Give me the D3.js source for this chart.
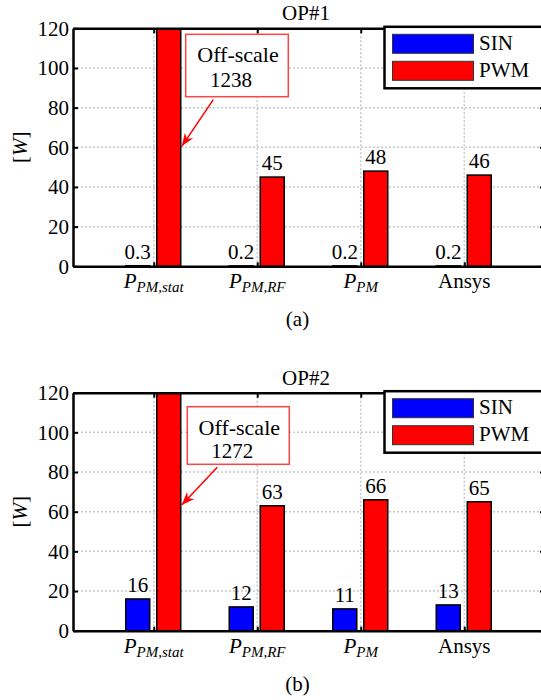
<!DOCTYPE html>
<html>
<head>
<meta charset="utf-8">
<script src="https://cdn.jsdelivr.net/npm/d3@7"></script>
</head>
<body style="margin:0">
<svg id="chart" width="541" height="700"></svg>
<script>
// categories on the x axis: main symbol + subscript (empty = plain text)
const catMain = ["P", "P", "P", "Ansys"];
const catSub = ["PM,stat", "PM,RF", "PM", ""];

// operating point #1
const sinOP1 = [0.3, 0.2, 0.2, 0.2];
const pwmOP1 = [1238, 45, 48, 46];
const sinLabelsOP1 = ["0.3", "0.2", "0.2", "0.2"];

// operating point #2
const sinOP2 = [16, 12, 11, 13];
const pwmOP2 = [1272, 63, 66, 65];
const sinLabelsOP2 = ["16", "12", "11", "13"];

const yTicks = [0, 20, 40, 60, 80, 100, 120];
const yMax = 120;
const seriesNames = ["SIN", "PWM"];
const seriesColors = ["#0000ff", "#ff0000"];

const svg = d3.select("#chart");
const FONT = '"Liberation Serif"';
const FS = 21;

// helper: text with the serif font
function txt(sel, size) {
    return sel.append("text")
        .style("font-family", FONT)
        .style("font-size", (size || FS) + "px")
        .attr("fill", "#000");
}

/**
 * draws one panel (bar chart) of the figure
 */
function drawPanel(cfg) {
    let left = 73, right = 545, top = cfg.top, bottom = cfg.top + 238;

    let x = d3.scaleLinear().domain([0.22, 4.78]).range([left, right]);
    let y = d3.scaleLinear().domain([0, yMax]).range([bottom, top]);
    let idx = [1, 2, 3, 4];

    let g = svg.append("g");

    let clipId = "clip-" + cfg.name;
    svg.append("clipPath").attr("id", clipId)
        .append("rect").attr("x", left).attr("y", top)
        .attr("width", right - left).attr("height", bottom - top);

    // grid (dotted)
    let grid = g.append("g")
        .attr("stroke", "#c8c8c8").attr("stroke-width", 1.5).attr("stroke-dasharray", "2,2");
    grid.selectAll(".h").data(yTicks.slice(1, -1)).join("line")
        .attr("x1", left).attr("x2", right)
        .attr("y1", d => y(d)).attr("y2", d => y(d));
    grid.selectAll(".v").data(idx).join("line")
        .attr("x1", d => x(d)).attr("x2", d => x(d))
        .attr("y1", top).attr("y2", bottom);

    // bars
    let bars = g.append("g").attr("clip-path", "url(#" + clipId + ")");
    let bw = 24;
    bars.selectAll(".sin").data(cfg.sin).join("rect")
        .attr("x", (d, i) => x(idx[i]) - 28)
        .attr("y", d => y(d))
        .attr("width", bw)
        .attr("height", d => y(0) - y(d))
        .attr("fill", seriesColors[0])
        .attr("stroke", "#000").attr("stroke-width", 1.5);
    bars.selectAll(".pwm").data(cfg.pwm).join("rect")
        .attr("x", (d, i) => x(idx[i]) + 3)
        .attr("y", d => y(Math.min(d, yMax + 5)))
        .attr("width", bw)
        .attr("height", d => y(0) - y(Math.min(d, yMax + 5)))
        .attr("fill", seriesColors[1])
        .attr("stroke", "#000").attr("stroke-width", 1.5);

    // value labels
    cfg.sin.forEach((d, i) => {
        txt(g).attr("x", x(idx[i]) - 16).attr("y", y(d) - 7)
            .attr("text-anchor", "middle").text(cfg.sinLabels[i]);
    });
    cfg.pwm.forEach((d, i) => {
        if (d > yMax) return;
        txt(g).attr("x", x(idx[i]) + 15).attr("y", y(d) - 7)
            .attr("text-anchor", "middle").text(d);
    });

    // axes (ticks point inwards)
    g.append("g").attr("transform", `translate(${left},0)`)
        .call(d3.axisLeft(y).tickValues(yTicks).tickSize(-5).tickSizeOuter(0).tickPadding(4));
    g.append("g").attr("transform", `translate(${right},0)`)
        .call(d3.axisRight(y).tickValues(yTicks).tickSize(-5).tickSizeOuter(0).tickFormat(""));
    g.append("g").attr("transform", `translate(0,${bottom})`)
        .call(d3.axisBottom(x).tickValues(idx).tickSize(-4).tickSizeOuter(0).tickFormat(""));
    g.append("g").attr("transform", `translate(0,${top})`)
        .call(d3.axisTop(x).tickValues(idx).tickSize(-5).tickSizeOuter(0).tickFormat(""));

    g.selectAll(".domain").attr("stroke", "#000").attr("stroke-width", 2.5);
    g.selectAll(".tick line").attr("stroke", "#000").attr("stroke-width", 2);
    g.selectAll(".tick text")
        .style("font-family", FONT)
        .style("font-size", FS + "px").attr("fill", "#000");

    // category labels
    idx.forEach((v, i) => {
        let t = txt(g).attr("x", x(v)).attr("y", bottom + 22)
            .attr("text-anchor", "middle");
        if (catSub[i] == "") {
            t.text(catMain[i]);
        } else {
            t.append("tspan").style("font-style", "italic").text(catMain[i]);
            t.append("tspan").style("font-style", "italic")
                .style("font-size", "15px").attr("dy", 4).text(catSub[i]);
        }
    });

    // y label
    let yl = txt(g)
        .attr("transform", `translate(27,${(top + bottom) / 2}) rotate(-90)`)
        .attr("text-anchor", "middle");
    yl.append("tspan").text("[");
    yl.append("tspan").style("font-style", "italic").text("W");
    yl.append("tspan").text("]");

    // title
    txt(g).attr("x", (left + 539) / 2).attr("y", top - 8)
        .attr("text-anchor", "middle").text(cfg.title);

    // legend
    let lg = g.append("g");
    lg.append("rect")
        .attr("x", 384.5).attr("y", top - 1.5)
        .attr("width", right - 384.5).attr("height", 61.5)
        .attr("fill", "#fff").attr("stroke", "#000").attr("stroke-width", 2.5);
    seriesNames.forEach((s, i) => {
        lg.append("rect")
            .attr("x", 392.5).attr("y", top + 6 + i * 27)
            .attr("width", 81).attr("height", 19)
            .attr("fill", seriesColors[i])
            .attr("stroke", "#333").attr("stroke-width", 1);
        txt(lg).attr("x", 479).attr("y", top + 21.5 + i * 27).text(s);
    });

    // off-scale annotation
    let a = cfg.note;
    g.append("rect")
        .attr("x", a.x0).attr("y", top + a.y0)
        .attr("width", a.x1 - a.x0).attr("height", a.y1 - a.y0)
        .attr("fill", "#fff").attr("stroke", "#ff4444").attr("stroke-width", 1.5);
    txt(g, 22).attr("x", (a.x0 + a.x1) / 2 + 1).attr("y", top + a.t1)
        .attr("text-anchor", "middle").text("Off-scale");
    txt(g).attr("x", (a.x0 + a.x1) / 2 - 6).attr("y", top + a.t2)
        .attr("text-anchor", "middle").text(cfg.pwm[0]);

    let tipX = x(1) + 28, tipY = y(a.tipVal);
    let fromX = a.fromX, fromY = top + a.y1 + 3;
    g.append("line")
        .attr("x1", fromX).attr("y1", fromY)
        .attr("x2", tipX).attr("y2", tipY)
        .attr("stroke", "#ff0000").attr("stroke-width", 1.5);
    let ang = Math.atan2(tipY - fromY, tipX - fromX);
    let L = 13, W = 5;
    let bx = tipX - L * Math.cos(ang), by = tipY - L * Math.sin(ang);
    let mx = tipX - 0.7 * L * Math.cos(ang), my = tipY - 0.7 * L * Math.sin(ang);
    let px = -Math.sin(ang), py = Math.cos(ang);
    g.append("path")
        .attr("d", `M${tipX},${tipY} L${bx + W * px},${by + W * py} L${mx},${my} L${bx - W * px},${by - W * py} Z`)
        .attr("fill", "#ff0000");

    // caption
    txt(g).attr("x", 297.5).attr("y", bottom + cfg.capOff)
        .attr("text-anchor", "middle").text(cfg.caption);
}

drawPanel({
    name: "a", top: 28.3, title: "OP#1", caption: "(a)", capOff: 59.5,
    sin: sinOP1, pwm: pwmOP1, sinLabels: sinLabelsOP1,
    note: { x0: 185.7, x1: 288.3, y0: 6, y1: 68.4, t1: 33.4, t2: 58.4, fromX: 213.3, tipVal: 60.5 }
});

drawPanel({
    name: "b", top: 392.7, title: "OP#2", caption: "(b)", capOff: 60.5,
    sin: sinOP2, pwm: pwmOP2, sinLabels: sinLabelsOP2,
    note: { x0: 187.3, x1: 289.3, y0: 14, y1: 71.6, t1: 42.3, t2: 65.6, fromX: 217.3, tipVal: 63.4 }
});
</script>
</body>
</html>
